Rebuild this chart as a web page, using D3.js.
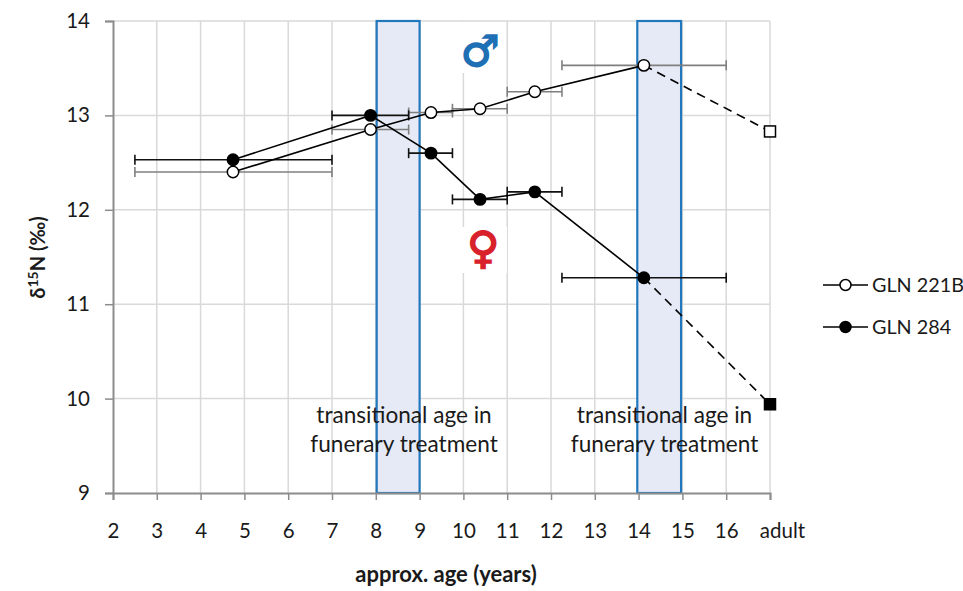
<!DOCTYPE html>
<html>
<head>
<meta charset="utf-8">
<script src="https://cdn.jsdelivr.net/npm/d3@7"></script>
<style>
    html, body { margin: 0; padding: 0; background: #fff; }
    svg { display: block; font-family: Lato, sans-serif; }
</style>
</head>
<body>
<div id="chart"></div>
<script>
// Data
const xTicks = [2, 3, 4, 5, 6, 7, 8, 9, 10, 11, 12, 13, 14, 15, 16, 17];
const yTicks = [9, 10, 11, 12, 13, 14];
const ages = [4.74, 7.88, 9.26, 10.38, 11.63, 14.12];
const ageLow = [2.5, 7, 8.75, 9.75, 11, 12.25];
const ageHigh = [7, 8.75, 9.75, 11, 12.25, 16];
const gln221B = [12.4, 12.85, 13.03, 13.07, 13.25, 13.53];
const gln284 = [12.53, 13.0, 12.6, 12.11, 12.19, 11.28];
const adultAge = 17;
const adult221B = 12.83;
const adult284 = 9.94;
const bands = [[8.02, 9], [13.97, 14.97]];

// Dimensions
const width = 963, height = 591;
const margin = { top: 21, left: 113, bottom: 98, right: 193 };

const svg = d3.select("#chart").append("svg")
    .attr("width", width)
    .attr("height", height);

const x = d3.scaleLinear().domain([2, 17]).range([margin.left, width - margin.right]);
const y = d3.scaleLinear().domain([9, 14]).range([height - margin.bottom, margin.top]);

// Grid
svg.append("g").selectAll("line")
    .data(xTicks.slice(1))
    .enter().append("line")
    .attr("x1", d => x(d)).attr("x2", d => x(d))
    .attr("y1", y(14)).attr("y2", y(9))
    .attr("stroke", "#d9d9d9").attr("stroke-width", 1.5);

svg.append("g").selectAll("line")
    .data(yTicks.slice(1))
    .enter().append("line")
    .attr("x1", x(2)).attr("x2", x(17))
    .attr("y1", d => y(d)).attr("y2", d => y(d))
    .attr("stroke", "#d9d9d9").attr("stroke-width", 1.5);

// Transitional age bands
svg.append("g").selectAll("rect")
    .data(bands)
    .enter().append("rect")
    .attr("x", d => x(d[0]))
    .attr("y", y(14))
    .attr("width", d => x(d[1]) - x(d[0]))
    .attr("height", y(9) - y(14))
    .attr("fill", "#e6eaf6")
    .attr("stroke", "#2277bd")
    .attr("stroke-width", 2.2);

// Axes
const xAxis = svg.append("g")
    .attr("transform", `translate(0,${y(9)})`)
    .call(d3.axisBottom(x).tickValues(xTicks).tickSize(7).tickPadding(23)
        .tickFormat(d => d === adultAge ? "adult" : d));
const yAxis = svg.append("g")
    .attr("transform", `translate(${x(2)},0)`)
    .call(d3.axisLeft(y).tickValues(yTicks).tickSize(8).tickPadding(15).tickFormat(d3.format("d")));

[xAxis, yAxis].forEach(axis => {
    axis.select(".domain").attr("stroke", "#8c8c8c").attr("stroke-width", 2);
    axis.selectAll(".tick line").attr("stroke", "#8c8c8c").attr("stroke-width", 1.5);
    axis.selectAll("text")
        .style("font-family", "Lato, sans-serif")
        .style("font-size", "20.5px")
        .style("fill", "#1a1a1a");
});

// The adult label sits right of its tick in the original
xAxis.selectAll(".tick text")
    .filter(d => d === adultAge)
    .attr("dx", 12);

// Sex symbols sit on white boxes that hide the grid
const symbols = [
    { glyph: "\u2642", x: 10.38, y: 13.68, color: "#1f6fb4", size: 43, box: [462, 22, 43, 51] },
    { glyph: "\u2640", x: 10.45, y: 11.6, color: "#d8212b", size: 44, box: [460, 227, 47, 46] }
];
svg.append("g").selectAll("rect")
    .data(symbols)
    .enter().append("rect")
    .attr("x", d => d.box[0])
    .attr("y", d => d.box[1])
    .attr("width", d => d.box[2])
    .attr("height", d => d.box[3])
    .attr("fill", "#fff");
svg.append("g").selectAll("text")
    .data(symbols)
    .enter().append("text")
    .attr("x", d => x(d.x))
    .attr("y", d => y(d.y))
    .attr("dy", "0.35em")
    .attr("text-anchor", "middle")
    .style("font-family", "'DejaVu Sans', sans-serif")
    .style("font-weight", "bold")
    .style("font-size", d => d.size + "px")
    .style("fill", d => d.color)
    .style("stroke", d => d.color)
    .style("stroke-width", 1.6)
    .text(d => d.glyph);

// Error bars
function drawErrorBars(values, color) {
    const g = svg.append("g").attr("stroke", color).attr("stroke-width", 1.6);
    values.forEach((v, i) => {
        g.append("line")
            .attr("x1", x(ageLow[i])).attr("x2", x(ageHigh[i]))
            .attr("y1", y(v)).attr("y2", y(v));
        [ageLow[i], ageHigh[i]].forEach(a => {
            g.append("line")
                .attr("x1", x(a)).attr("x2", x(a))
                .attr("y1", y(v) - 5).attr("y2", y(v) + 5);
        });
    });
}
drawErrorBars(gln221B, "#7f7f7f");
drawErrorBars(gln284, "#111");

// Lines
const line = d3.line().x(d => x(d[0])).y(d => y(d[1]));

function drawSeries(values, adultValue, fill) {
    svg.append("path")
        .attr("d", line(values.map((v, i) => [ages[i], v])))
        .attr("fill", "none")
        .attr("stroke", "#000")
        .attr("stroke-width", 1.6);

    svg.append("path")
        .attr("d", line([[ages[ages.length - 1], values[values.length - 1]], [adultAge, adultValue]]))
        .attr("fill", "none")
        .attr("stroke", "#000")
        .attr("stroke-width", 1.6)
        .attr("stroke-dasharray", "9,6");

    svg.append("g").selectAll("circle")
        .data(values)
        .enter().append("circle")
        .attr("cx", (d, i) => x(ages[i]))
        .attr("cy", d => y(d))
        .attr("r", 5.7)
        .attr("fill", fill)
        .attr("stroke", "#000")
        .attr("stroke-width", 1.5);

    svg.append("rect")
        .attr("x", x(adultAge) - 5.5)
        .attr("y", y(adultValue) - 5.5)
        .attr("width", 11)
        .attr("height", 11)
        .attr("fill", fill)
        .attr("stroke", "#000")
        .attr("stroke-width", 1.5);
}
drawSeries(gln221B, adult221B, "#fff");
drawSeries(gln284, adult284, "#000");

// Band annotations
const notes = [
    { x: 404, y: 423 },
    { x: 664.5, y: 423 }
];
notes.forEach(n => {
    ["transitional age in", "funerary treatment"].forEach((t, i) => {
        svg.append("text")
            .attr("x", n.x)
            .attr("y", n.y + i * 29)
            .attr("text-anchor", "middle")
            .style("font-size", "22.6px")
            .style("fill", "#1a1a1a")
            .text(t);
    });
});

// Axis titles
svg.append("text")
    .attr("x", 446)
    .attr("y", 582)
    .attr("text-anchor", "middle")
    .style("font-size", "22px")
    .style("font-weight", "bold")
    .style("fill", "#1a1a1a")
    .text("approx. age (years)");

const yTitle = svg.append("text")
    .attr("transform", "translate(45,257.5) rotate(-90)")
    .attr("text-anchor", "middle")
    .style("font-size", "20px")
    .style("font-weight", "bold")
    .style("fill", "#1a1a1a");
yTitle.append("tspan").text("\u03B4");
yTitle.append("tspan").attr("dy", -7).style("font-size", "14px").text("15");
yTitle.append("tspan").attr("dy", 7).text("N (\u2030)");

// Legend
const legendItems = [
    { name: "GLN 221B", fill: "#fff", y: 285 },
    { name: "GLN 284", fill: "#000", y: 327 }
];
const legend = svg.append("g").selectAll("g")
    .data(legendItems)
    .enter().append("g")
    .attr("transform", d => `translate(823,${d.y})`);
legend.append("line")
    .attr("x2", 45)
    .attr("stroke", "#000")
    .attr("stroke-width", 1.6);
legend.append("circle")
    .attr("cx", 22.5)
    .attr("r", 5.5)
    .attr("fill", d => d.fill)
    .attr("stroke", "#000")
    .attr("stroke-width", 1.5);
legend.append("text")
    .attr("x", 49)
    .attr("dy", "0.35em")
    .style("font-size", "19.8px")
    .style("fill", "#1a1a1a")
    .text(d => d.name);
</script>
</body>
</html>
